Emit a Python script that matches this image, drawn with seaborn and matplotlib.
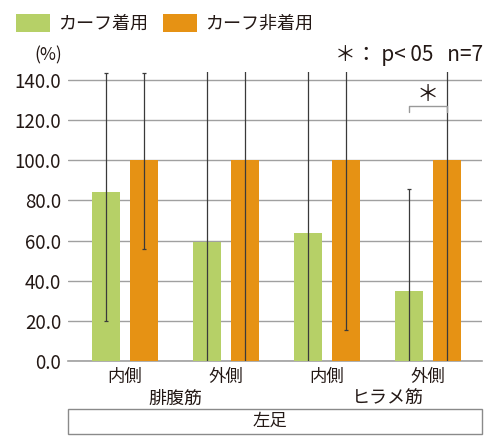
import matplotlib
matplotlib.use("Agg")
import matplotlib.pyplot as plt
from matplotlib.patches import Rectangle, Patch
import seaborn as sns
import pandas as pd
import numpy as np

# ---- data ----
muscles = ["腓腹筋", "腓腹筋", "ヒラメ筋", "ヒラメ筋"]
sides = ["内側", "外側", "内側", "外側"]
conditions = ["カーフ着用", "カーフ非着用"]
with_cuff = [84.3, 59.5, 63.7, 34.7]
without_cuff = [100.0, 100.0, 100.0, 100.0]
with_err_lo = [64.2, 90.0, 85.0, 51.0]
with_err_hi = [59.0, 90.0, 85.0, 51.0]
without_err_lo = [44.2, 105.0, 84.6, 105.0]
without_err_hi = [43.3, 105.0, 84.6, 105.0]
yticks = [0, 20, 40, 60, 80, 100, 120, 140]
group_labels = ["腓腹筋", "ヒラメ筋"]
side_label = "左足"
note = "＊： p< 05   n=7"

colors = ["#B6D067", "#E69214"]

keys = [m + s for m, s in zip(muscles, sides)]
df = pd.DataFrame({
    "key": keys * 2,
    "cond": [conditions[0]] * 4 + [conditions[1]] * 4,
    "value": with_cuff + without_cuff,
})

sns.set_theme(style="white")
plt.rcParams["font.family"] = ["Noto Sans CJK JP", "DejaVu Sans"]

fig = plt.figure(figsize=(4.98, 4.46), dpi=100)
ax = fig.add_axes([68/498, 1-361/446, (482-68)/498, (361-72)/446])

sns.barplot(data=df, x="key", y="value", hue="cond", order=keys,
            hue_order=conditions, palette=colors, width=0.75, gap=0.25,
            errorbar=None, ax=ax, legend=False, zorder=3,
            edgecolor="none", saturation=1)

# error bars
bars = ax.patches
lo = with_err_lo + without_err_lo
hi = with_err_hi + without_err_hi
vals = with_cuff + without_cuff
xs = []
for i, p in enumerate(bars[:8]):
    xc = p.get_x() + p.get_width() / 2
    xs.append(xc)
    ax.errorbar(xc, vals[i], yerr=[[lo[i]], [hi[i]]], fmt="none",
                ecolor="#3a3a3a", elinewidth=0.9, capsize=1.5,
                capthick=0.9, zorder=4)

ax.set_ylim(0, 144)
ax.set_xlim(-0.564, 3.535)
ax.set_yticks(yticks)
ax.set_yticklabels([f"{v:.1f}" for v in yticks], fontsize=13.5, color="#231815")
ax.set_xticks(range(4))
ax.set_xticklabels(sides, fontsize=12.5, color="#231815")
ax.tick_params(axis="y", length=0, pad=5)
ax.tick_params(axis="x", length=0, pad=5)
ax.set_xlabel("")
ax.set_ylabel("")
for s in ["left", "right", "top"]:
    ax.spines[s].set_visible(False)
ax.spines["bottom"].set_color("#a0a0a0")
ax.spines["bottom"].set_linewidth(1.2)
ax.yaxis.grid(True, color="#a0a0a0", linewidth=1.0, zorder=0)
ax.set_axisbelow(True)

# group labels
trans = matplotlib.transforms.blended_transform_factory(ax.transData, ax.transAxes)
ax.text(0.5, -0.13, group_labels[0], transform=trans, ha="center", va="center",
        fontsize=13, color="#231815")
ax.text(2.6, -0.13, group_labels[1], transform=trans, ha="center", va="center",
        fontsize=13, color="#231815")

# significance bracket
x1, x2 = xs[3], xs[7]
ax.plot([x1, x1, x2, x2], [124, 127, 127, 124], color="#999999", lw=1.0,
        zorder=5, clip_on=False)
ax.text((x1 + x2) / 2, 127.0, "＊", ha="center", va="bottom", fontsize=16,
        color="#231815")

# box with side label
fig.add_artist(Rectangle((68/498, 1-434/446), (482-68)/498, 25/446,
                         transform=fig.transFigure, fill=False,
                         edgecolor="#8a8a8a", linewidth=1.0))
fig.text(270/498, 1-421/446, side_label, ha="center", va="center",
         fontsize=12.5, color="#231815")

# top texts
fig.text(48/498, 1-55/446, "(%)", ha="center", va="center", fontsize=12.5,
         color="#231815")
fig.text(483/498, 1-55/446, note, ha="right", va="center", fontsize=15,
         color="#231815")

handles = [Patch(facecolor=c, edgecolor="none") for c in colors]
fig.legend(handles, conditions, loc="upper left", bbox_to_anchor=(0.006, 0.997),
           ncol=2, frameon=False, fontsize=13, handlelength=1.9,
           handleheight=1.15, handletextpad=0.45, columnspacing=0.8,
           borderaxespad=0.3, labelcolor="#231815")

fig.savefig("out.png", dpi=100)
